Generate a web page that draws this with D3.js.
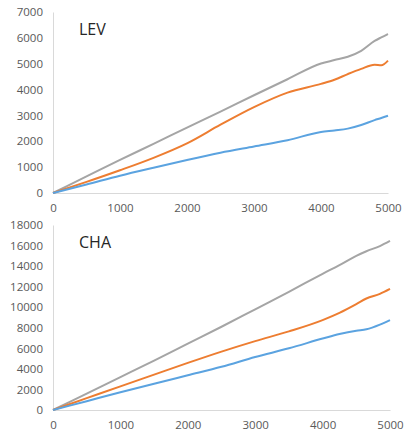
<!DOCTYPE html>
<html>
<head>
<meta charset="utf-8">
<script src="https://cdn.jsdelivr.net/npm/d3@7"></script>
<style>
  body { margin: 0; background: #fff; }
  svg { display: block; }
  .tick text { fill: #595959; font-family: "Open Sans", sans-serif; font-size: 11.5px; }
  .domain { stroke: #d9d9d9; }
</style>
</head>
<body>
<svg id="chart" width="404" height="436"></svg>
<script>
// LEV panel
var levX = [0, 500, 1000, 1500, 2000, 2500, 3000, 3500, 4000, 4200, 4400, 4600, 4800, 4900, 5000];
var levGray = [0, 640, 1280, 1900, 2530, 3150, 3780, 4400, 5010, 5140, 5270, 5500, 5880, 6020, 6150];
var levOrange = [0, 430, 880, 1360, 1920, 2640, 3320, 3880, 4220, 4380, 4600, 4800, 4960, 4940, 5120];
var levBlue = [0, 330, 670, 980, 1280, 1560, 1800, 2040, 2360, 2420, 2490, 2630, 2820, 2900, 2990];
var levYTicks = [0, 1000, 2000, 3000, 4000, 5000, 6000, 7000];

// CHA panel
var chaX = [0, 500, 1000, 1500, 2000, 2500, 3000, 3500, 4000, 4250, 4500, 4650, 4850, 5000];
var chaGray = [0, 1600, 3200, 4800, 6450, 8100, 9800, 11500, 13250, 14100, 15000, 15450, 15950, 16450];
var chaOrange = [0, 1150, 2300, 3440, 4580, 5680, 6700, 7650, 8750, 9450, 10300, 10850, 11300, 11780];
var chaBlue = [0, 860, 1720, 2560, 3380, 4200, 5150, 6000, 6950, 7400, 7720, 7850, 8300, 8750];
var chaYTicks = [0, 2000, 4000, 6000, 8000, 10000, 12000, 14000, 16000, 18000];

var xTicks = [0, 1000, 2000, 3000, 4000, 5000];
var colors = ['#a5a5a5', '#ed7d31', '#5ba3e0'];

var svg = d3.select('#chart');

function panel(title, xs, series, yTicks, yMax, box) {
  var x = d3.scaleLinear().domain([0, 5000]).range([box.left, box.right]);
  var y = d3.scaleLinear().domain([0, yMax]).range([box.bottom, box.top]);

  var g = svg.append('g');

  g.append('g')
    .attr('transform', 'translate(' + box.left + ',0)')
    .call(d3.axisLeft(y).tickValues(yTicks).tickSize(0).tickPadding(10).tickFormat(d3.format('d')));

  g.append('g')
    .attr('transform', 'translate(0,' + box.bottom + ')')
    .call(d3.axisBottom(x).tickValues(xTicks).tickSize(0).tickPadding(11).tickFormat(d3.format('d')));

  var line = d3.line()
    .x(function(d) { return x(d[0]); })
    .y(function(d) { return y(d[1]); })
    .curve(d3.curveMonotoneX);

  g.selectAll('path.series')
    .data(series)
    .join('path')
    .attr('class', 'series')
    .attr('fill', 'none')
    .attr('stroke', function(d, i) { return colors[i]; })
    .attr('stroke-width', 2)
    .attr('d', function(d) {
      return line(xs.map(function(v, i) { return [v, d[i]]; }));
    });

  g.append('text')
    .attr('x', box.left + 26)
    .attr('y', box.top + 23)
    .attr('fill', '#262626')
    .style('font-family', '"Open Sans", sans-serif')
    .style('font-size', '16px')
    .text(title);
}

panel('LEV', levX, [levGray, levOrange, levBlue], levYTicks, 7000,
  {left: 53, right: 388, top: 12, bottom: 193});
panel('CHA', chaX, [chaGray, chaOrange, chaBlue], chaYTicks, 18000,
  {left: 53, right: 390, top: 225, bottom: 410});
</script>
</body>
</html>
